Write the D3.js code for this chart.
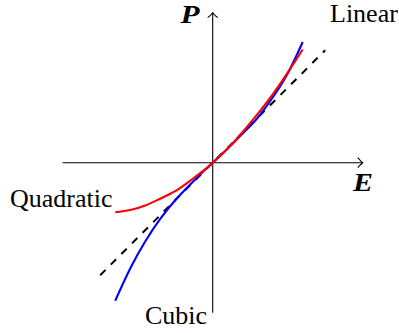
<!DOCTYPE html>
<html>
<head>
<meta charset="utf-8">
<script src="https://cdn.jsdelivr.net/npm/d3@7"></script>
<style>
  html, body { margin: 0; padding: 0; background: #fff; }
  svg { display: block; }
  text { font-family: "Liberation Serif", "Times New Roman", serif; fill: #000; }
</style>
</head>
<body>
<svg id="chart" width="399" height="333"></svg>
<script>
// Field strength E (horizontal) and polarisation P (vertical), in axis units
const axisDomain = [-2, 2];
const fieldE = [-1.3, -1.1, -0.9, -0.7, -0.5, -0.3, -0.1, 0, 0.2, 0.4, 0.6, 0.8, 1.0, 1.2];
const quadraticP = [-0.66, -0.63, -0.57, -0.48, -0.38, -0.24, -0.09, 0, 0.19, 0.41, 0.65, 0.91, 1.20, 1.51];
const cubicP = [-1.84, -1.41, -1.05, -0.75, -0.50, -0.29, -0.09, 0, 0.19, 0.39, 0.60, 0.87, 1.19, 1.61];
const linearE = [-1.5, 1.5];
const linearP = [-1.5, 1.5];
const curveLabels = ["Linear", "Quadratic", "Cubic"];
const axisLabels = ["E", "P"];

const svg = d3.select("#chart");

const x = d3.scaleLinear().domain(axisDomain).range([62.7, 362.7]);
const y = d3.scaleLinear().domain(axisDomain).range([312.7, 12.7]);

// Axes with open "to"-style arrow heads
const axes = svg.append("g").attr("stroke", "#000").attr("stroke-width", 1.1).attr("fill", "none");
axes.append("line")
  .attr("x1", x(axisDomain[0])).attr("y1", y(0))
  .attr("x2", x(axisDomain[1])).attr("y2", y(0));
axes.append("line")
  .attr("x1", x(0)).attr("y1", y(axisDomain[0]))
  .attr("x2", x(0)).attr("y2", y(axisDomain[1]));

const hx = x(axisDomain[1]), hy = y(0);
axes.append("path")
  .attr("d", `M${hx - 5},${hy - 5} Q${hx - 1.5},${hy - 1} ${hx},${hy} Q${hx - 1.5},${hy + 1} ${hx - 5},${hy + 5}`);
const vx = x(0), vy = y(axisDomain[1]);
axes.append("path")
  .attr("d", `M${vx - 5},${vy + 5} Q${vx - 1},${vy + 1.5} ${vx},${vy} Q${vx + 1},${vy + 1.5} ${vx + 5},${vy + 5}`);

const line = d3.line()
  .x(d => x(d[0]))
  .y(d => y(d[1]))
  .curve(d3.curveNatural);

// Linear response (dashed reference)
svg.append("path")
  .datum(d3.zip(linearE, linearP))
  .attr("d", d3.line().x(d => x(d[0])).y(d => y(d[1])))
  .attr("fill", "none")
  .attr("stroke", "#000")
  .attr("stroke-width", 2)
  .attr("stroke-dasharray", "7.5,7.5");

// Cubic response
svg.append("path")
  .datum(d3.zip(fieldE, cubicP))
  .attr("d", line)
  .attr("fill", "none")
  .attr("stroke", "#0000ff")
  .attr("stroke-width", 2.1);

// Quadratic response
svg.append("path")
  .datum(d3.zip(fieldE, quadraticP))
  .attr("d", line)
  .attr("fill", "none")
  .attr("stroke", "#ff0000")
  .attr("stroke-width", 2.1);

// Curve labels
svg.append("text").attr("x", 330).attr("y", 21.7).attr("font-size", 26).text(curveLabels[0]);
svg.append("text").attr("x", 10).attr("y", 207).attr("font-size", 26).text(curveLabels[1]);
svg.append("text").attr("x", 145).attr("y", 323.5).attr("font-size", 26).text(curveLabels[2]);

// Axis labels (wide bold-italic math letters)
svg.append("text")
  .attr("transform", "translate(353,190.7) scale(1.15,1)")
  .attr("font-size", 26)
  .attr("font-weight", "bold").attr("font-style", "italic").text(axisLabels[0]);
svg.append("text")
  .attr("transform", "translate(180.5,22.7) scale(1.2,1)")
  .attr("font-size", 26)
  .attr("font-weight", "bold").attr("font-style", "italic").text(axisLabels[1]);
</script>
</body>
</html>
